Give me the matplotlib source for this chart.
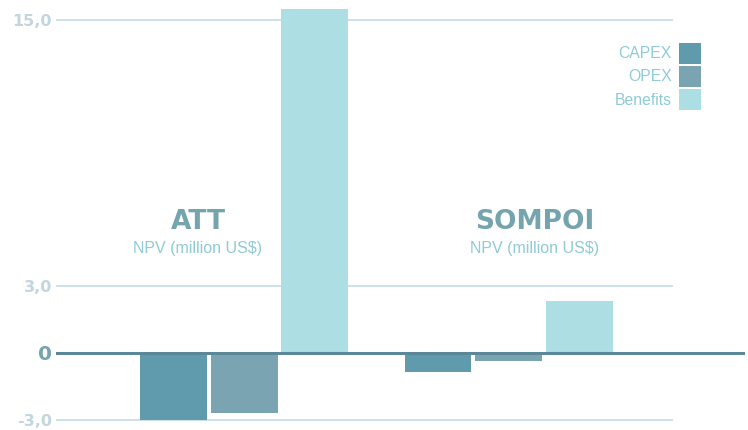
import numpy as np
import matplotlib.pyplot as plt

# NPV components, million US$
sites = ["ATT", "SOMPOI"]
series = ["CAPEX", "OPEX", "Benefits"]
capex = [-3.0, -0.85]
opex = [-2.7, -0.35]
benefits = [15.5, 2.35]
yticks = [-3.0, 0, 3.0, 15.0]
ytick_labels = ["-3,0", "0", "3,0", "15,0"]
title_dx = [-0.174, 0.100]

colors = ["#5f9bac", "#7aa4b1", "#acdee3"]
grid_c = "#c9dde6"
tick_c = "#c3d6e0"
title_c = "#74a4ae"
sub_c = "#8ecbd6"

fig = plt.figure(figsize=(7.48, 4.30), dpi=100)
ax = fig.add_axes([56 / 748, 0, (745 - 56) / 748, 1])

x = np.arange(len(sites))
step = 0.2666
width = 0.253
for i, (name, vals) in enumerate(zip(series, [capex, opex, benefits])):
    ax.bar(x + (i - 1) * step, vals, width, color=colors[i], label=name, zorder=3)

ax.set_xlim(-0.711, 1.894)
ax.set_ylim(-3.47, 15.9)

# grid lines stop short of the right edge, zero line runs through
for v in yticks:
    if v == 0:
        continue
    ax.axhline(v, xmin=0, xmax=0.894, color=grid_c, lw=1.3, zorder=1)
ax.axhline(0, color="#5a8898", lw=2.2, zorder=4)

for s in ax.spines.values():
    s.set_visible(False)
ax.set_xticks([])
ax.set_yticks(yticks)
ax.set_yticklabels(ytick_labels)
ax.tick_params(axis="y", length=0, pad=3)
for lab, v in zip(ax.get_yticklabels(), yticks):
    lab.set_fontweight("bold")
    lab.set_family("DejaVu Sans")
    if v == 0:
        lab.set_color(title_c)
        lab.set_fontsize(14.5)
    else:
        lab.set_color(tick_c)
        lab.set_fontsize(11.5)

for xi, dx, name in zip(x, title_dx, sites):
    ax.text(xi + dx, 5.9, name, ha="center", va="center", fontsize=19,
            fontweight="heavy", color=title_c, family="DejaVu Sans")
    ax.text(xi + dx, 4.72, "NPV (million US$)", ha="center", va="center",
            fontsize=11.5, color=sub_c, family="Liberation Sans")

leg = ax.legend(loc="upper right", bbox_to_anchor=(701 / 748, 1 - 43 / 430),
                bbox_transform=fig.transFigure, markerfirst=False, frameon=False,
                handlelength=1.4, handleheight=1.64, handletextpad=0.45,
                labelspacing=0.16, borderaxespad=0, borderpad=0,
                prop={"family": "Liberation Sans", "size": 11.3})
for t in leg.get_texts():
    t.set_color(sub_c)
    t.set_ha("right")

fig.savefig("out.png", dpi=100)
